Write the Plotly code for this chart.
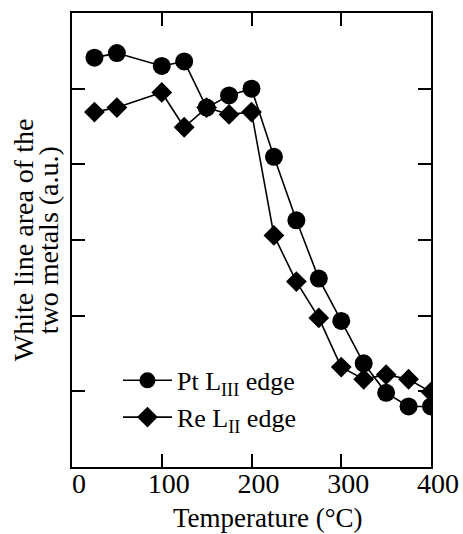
import plotly.graph_objects as go

temps = [25, 50, 100, 125, 150, 175, 200, 225, 250, 275, 300, 325, 350, 375, 400]
pt_area = [5.41, 5.47, 5.30, 5.36, 4.75, 4.91, 5.00, 4.10, 3.26, 2.49, 1.93, 1.37, 0.98, 0.80, 0.80]
re_area = [4.69, 4.75, 4.95, 4.49, 4.75, 4.66, 4.69, 3.06, 2.45, 1.97, 1.32, 1.16, 1.22, 1.16, 0.99]
x_ticks = [0, 100, 200, 300, 400]
y_ticks = [1, 2, 3, 4, 5]
y_title_lines = ["White line area of the", "two metals (a.u.)"]
x_title = "Temperature (°C)"

FONT = "Liberation Serif"

fig = go.Figure()
fig.add_trace(go.Scatter(
    x=temps, y=pt_area, mode="lines+markers", name="Pt L<sub>III</sub> edge",
    line=dict(color="black", width=1.6),
    marker=dict(symbol="circle", size=18, color="black"),
))
fig.add_trace(go.Scatter(
    x=temps, y=re_area, mode="lines+markers", name="Re L<sub>II</sub> edge",
    line=dict(color="black", width=1.6),
    marker=dict(symbol="diamond", size=16, color="black"),
))

annotations = [
    dict(text=y_title_lines[0], xref="paper", yref="paper", x=-0.136, y=0.5,
         xanchor="center", yanchor="middle", textangle=-90, showarrow=False,
         font=dict(family=FONT, size=28, color="black")),
    dict(text=y_title_lines[1], xref="paper", yref="paper", x=-0.066, y=0.5,
         xanchor="center", yanchor="middle", textangle=-90, showarrow=False,
         font=dict(family=FONT, size=28, color="black")),
    dict(text=x_title, xref="paper", yref="paper", x=(268 - 72) / 359, y=-0.1123,
         xanchor="center", yanchor="middle", showarrow=False,
         font=dict(family=FONT, size=27, color="black")),
]

fig.update_layout(
    width=463, height=534,
    margin=dict(l=72, r=32, t=13, b=67, autoexpand=False),
    paper_bgcolor="white", plot_bgcolor="white",
    font=dict(family=FONT, color="black", size=26),
    showlegend=True,
    annotations=annotations,
    legend=dict(
        x=0.128, y=0.2425, xanchor="left", yanchor="top",
        bgcolor="rgba(0,0,0,0)", font=dict(family=FONT, size=26),
        itemwidth=49, tracegroupgap=0,
    ),
    xaxis=dict(
        range=[0, 400], tickvals=x_ticks,
        ticktext=["\u00a0\u00a0" + str(v) for v in x_ticks],
        ticks="inside", ticklen=13, tickwidth=1.5, tickcolor="black",
        showline=True, linecolor="black", linewidth=2, mirror="ticks",
        showgrid=False, zeroline=False, ticklabelstandoff=-10,
        tickfont=dict(family=FONT, size=28), automargin=False,
    ),
    yaxis=dict(
        range=[0, 6], tickvals=y_ticks, showticklabels=False,
        ticks="inside", ticklen=13, tickwidth=1.5, tickcolor="black",
        showline=True, linecolor="black", linewidth=2, mirror="ticks",
        showgrid=False, zeroline=False, automargin=False,
    ),
)

fig.write_html("out.html")
